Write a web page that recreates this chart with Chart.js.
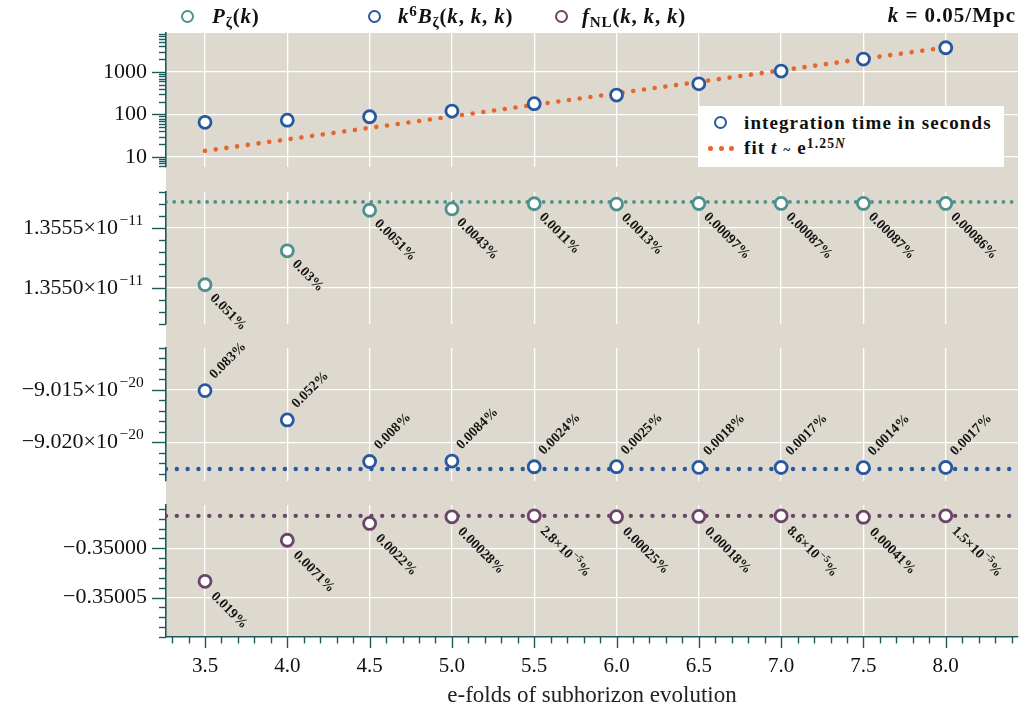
<!DOCTYPE html>
<html><head><meta charset="utf-8">
<script src="https://cdn.jsdelivr.net/npm/chart.js@4.4.1/dist/chart.umd.min.js"></script>
<style>
html,body{margin:0;padding:0;background:#fff;}
#wrap{position:relative;width:1026px;height:711px;overflow:hidden;font-family:"Liberation Serif",serif;color:#111;}
#bg{position:absolute;left:166px;top:33px;width:852px;height:604px;background:#ddd9cf;z-index:0;}
canvas{position:absolute;left:0;z-index:1;}
.leg{position:absolute;font-weight:bold;font-size:21px;letter-spacing:0.8px;white-space:nowrap;line-height:1;z-index:5;}
.mk{position:absolute;width:9.2px;height:9.2px;border-radius:50%;border:2.8px solid;background:#fff;z-index:6;}
.sb{font-size:0.72em;position:relative;top:0.28em;}
.sp{font-size:0.72em;position:relative;top:-0.45em;}
.dot{position:absolute;width:4.6px;height:4.6px;border-radius:50%;background:#e8642c;z-index:6;}
#inleg{position:absolute;left:699px;top:106px;width:305px;height:61px;background:#fff;z-index:4;}
</style></head>
<body>
<div id="wrap">
  <div id="bg"></div>
  <div class="mk" style="left:180.6px;top:9.6px;border-color:#4f8f8c"></div>
  <div class="leg" style="left:212px;top:6px"><i>P</i><span class="sb">ζ</span>(<i>k</i>)</div>
  <div class="mk" style="left:367.6px;top:9.6px;border-color:#2858a0"></div>
  <div class="leg" style="left:398px;top:6px"><i>k</i><span class="sp">6</span><i>B</i><span class="sb">ζ</span>(<i>k</i>, <i>k</i>, <i>k</i>)</div>
  <div class="mk" style="left:554.6px;top:9.6px;border-color:#6b4468"></div>
  <div class="leg" style="left:582px;top:6px"><i>f</i><span class="sb">NL</span>(<i>k</i>, <i>k</i>, <i>k</i>)</div>
  <div class="leg" style="right:10px;top:5px;letter-spacing:1px"><i>k</i> = 0.05/Mpc</div>
  <div id="inleg"></div>
  <div class="mk" style="left:713.6px;top:115.6px;border-color:#2858a0"></div>
  <div class="leg" style="left:744px;top:113px;font-size:19px;letter-spacing:1.1px">integration time in seconds</div>
  <div class="dot" style="left:708.4px;top:146.2px"></div>
  <div class="dot" style="left:719px;top:146.2px"></div>
  <div class="dot" style="left:729.4px;top:146.2px"></div>
  <div class="leg" style="left:744px;top:138px;font-size:19px;letter-spacing:1.1px">fit <i>t</i> <span style="font-size:0.7em">~</span> e<span class="sp">1.25<i>N</i></span></div>
</div>
<script>
// ---------------- data ----------------
const efolds = [3.5, 4.0, 4.5, 5.0, 5.5, 6.0, 6.5, 7.0, 7.5, 8.0];
const integrationTime = [65, 73, 88, 120, 179, 285, 527, 1050, 2020, 3730];
const fitN = [3.5, 8.0];
const fitTime = [13.8, 3800];

// power spectrum, units of 1e-11
const powerSpectrum = [1.355027, 1.355310, 1.355648, 1.355659, 1.355702, 1.355699, 1.355704, 1.355705, 1.355705, 1.355705];
const powerRef = 1.355717;
const powerErr = ['0.051%', '0.03%', '0.0051%', '0.0043%', '0.0011%', '0.0013%', '0.00097%', '0.00087%', '0.00087%', '0.00086%'];

// bispectrum k^6 B, units of 1e-20
const bispectrum = [-9.01507, -9.01787, -9.02184, -9.02180, -9.02234, -9.02233, -9.02240, -9.02241, -9.02243, -9.02241];
const bispRef = -9.02256;
const bispErr = ['0.083%', '0.052%', '0.008%', '0.0084%', '0.0024%', '0.0025%', '0.0018%', '0.0017%', '0.0014%', '0.0017%'];

// f_NL
const fnl = [-0.3500335, -0.3499918, -0.3499747, -0.3499680, -0.3499670, -0.3499679, -0.3499676, -0.3499670, -0.3499684, -0.3499670];
const fnlRef = -0.349967;
const fnlErr = ['0.019%', '0.0071%', '0.0022%', '0.00028%', '2.8×10^{−5}%', '0.00025%', '0.00018%', '8.6×10^{−5}%', '0.00041%', '1.5×10^{−5}%'];

// tick labels
const xTickValues = [3.5, 4.0, 4.5, 5.0, 5.5, 6.0, 6.5, 7.0, 7.5, 8.0];
const xTickLabels = ['3.5', '4.0', '4.5', '5.0', '5.5', '6.0', '6.5', '7.0', '7.5', '8.0'];
const timeTickValues = [10, 100, 1000];
const timeTickLabels = ['10', '100', '1000'];
const powerTickValues = [1.3550, 1.3555];
const powerTickLabels = ['1.3550×10', '1.3555×10'];
const powerTickExp = '−11';
const bispTickValues = [-9.020, -9.015];
const bispTickLabels = ['−9.020×10', '−9.015×10'];
const bispTickExp = '−20';
const fnlTickValues = [-0.35005, -0.35000];
const fnlTickLabels = ['−0.35005', '−0.35000'];

// ---------------- layout / style ----------------
const W = 1026, H = 711, CW = 1070, PLOT_LEFT = 166, PLOT_RIGHT = 1018, PAD = 40;
const PANELS = [[33, 167], [192, 324], [348, 481], [505, 637]];
const X_MIN = 3.263, X_MAX = 8.439;
const AXIS = '#1c5a5b';
const C_TIME = '#2858a0', C_FIT = '#e8642c', C_P = '#4f8f8c', C_B = '#2858a0', C_F = '#6b4468';
const EXP_PAD = 48;

Chart.defaults.font.family = '"Liberation Serif", serif';
Chart.defaults.font.size = 21;
Chart.defaults.color = '#111';

function labelFrom(vals, labs) {
  return (v, i, t) => {
    if (!t[i] || !t[i].isMaj) return '';
    for (let k = 0; k < vals.length; k++) if (Math.abs(vals[k] - v) < 1e-7 * Math.max(1e-3, Math.abs(v))) return labs[k];
    return '';
  };
}
function linTicks(min, max, step, ratio) {
  const out = [];
  const k0 = Math.ceil(min / step - 1e-6), k1 = Math.floor(max / step + 1e-6);
  for (let k = k0; k <= k1; k++) out.push({value: k * step, isMaj: k % ratio === 0});
  return out;
}
function logTicks(min, max) {
  const out = [];
  for (let e = Math.floor(Math.log10(min)); e <= Math.ceil(Math.log10(max)); e++) {
    for (let d = 1; d <= 9; d++) {
      const v = d * Math.pow(10, e);
      if (v >= min && v <= max) out.push({value: v, isMaj: d === 1});
    }
  }
  return out;
}

function marks(expText) {
  return {
    id: 'marks',
    afterDraw(chart) {
      const ctx = chart.ctx;
      ctx.save();
      ctx.strokeStyle = AXIS; ctx.lineWidth = 1.4;
      const y = chart.scales.y;
      for (const t of y.ticks) {
        const p = Math.round(y.getPixelForValue(t.value)) + 0.5;
        const len = t.isMaj ? 14 : 7;
        ctx.beginPath(); ctx.moveTo(PLOT_LEFT, p); ctx.lineTo(PLOT_LEFT - len, p); ctx.stroke();
        if (expText && t.isMaj) {
          ctx.save();
          ctx.fillStyle = '#111';
          ctx.font = '15.5px "Liberation Serif", serif';
          ctx.textAlign = 'left'; ctx.textBaseline = 'middle';
          ctx.fillText(expText, PLOT_LEFT - EXP_PAD + 1.5, p - 8);
          ctx.restore();
        }
      }
      const x = chart.scales.x;
      if (x.options.border.display) {
        for (const t of x.ticks) {
          const p = Math.round(x.getPixelForValue(t.value)) + 0.5;
          const len = t.isMaj ? 11 : 6.5;
          ctx.beginPath(); ctx.moveTo(p, x.top); ctx.lineTo(p, x.top + len); ctx.stroke();
        }
      }
      ctx.restore();
    }
  };
}

function pctPlugin(labels, dx, dy, angle) {
  return {
    id: 'pct',
    afterDatasetsDraw(chart) {
      const meta = chart.getDatasetMeta(0);
      const ctx = chart.ctx;
      ctx.save();
      ctx.fillStyle = '#141414';
      ctx.textBaseline = 'middle';
      ctx.textAlign = 'left';
      labels.forEach((lab, i) => {
        const el = meta.data[i];
        if (!el) return;
        ctx.save();
        ctx.translate(el.x + dx, el.y + dy);
        ctx.rotate(angle);
        const m = lab.match(/^(.*)\^\{(.*)\}(.*)$/);
        const big = 'bold 14px "Liberation Serif", serif', small = 'bold 10px "Liberation Serif", serif';
        if (m) {
          ctx.font = big; ctx.fillText(m[1], 0, 0);
          let xx = ctx.measureText(m[1]).width;
          ctx.font = small; ctx.fillText(m[2], xx + 0.5, -5);
          xx += ctx.measureText(m[2]).width + 1;
          ctx.font = big; ctx.fillText(m[3], xx, 0);
        } else {
          ctx.font = big; ctx.fillText(lab, 0, 0);
        }
        ctx.restore();
      });
      ctx.restore();
    }
  };
}

function markerSet(label, xs, ys, color) {
  return {
    label, data: xs.map((x, i) => ({x, y: ys[i]})),
    showLine: false, pointRadius: 6, pointBorderWidth: 2.8,
    pointBackgroundColor: '#fff', pointBorderColor: color, borderColor: color, backgroundColor: '#fff'
  };
}
function dottedSet(label, xs, ys, color, gap, width) {
  return {
    label, data: xs.map((x, i) => ({x, y: ys[i]})),
    showLine: true, pointRadius: 0, borderColor: color, borderWidth: width,
    borderDash: [0.01, gap], borderCapStyle: 'round', fill: false
  };
}

function xScale(last) {
  return {
    type: 'linear', min: X_MIN, max: X_MAX, position: 'bottom',
    afterBuildTicks(s) { s.ticks = linTicks(X_MIN, X_MAX, 0.1, 5); },
    afterFit(s) { s.height = last ? H - PANELS[3][1] : 0; s.paddingLeft = 0; s.paddingRight = 0; },
    ticks: {display: last, autoSkip: false, maxRotation: 0, minRotation: 0, padding: 17,
      callback: labelFrom(xTickValues, xTickLabels), color: '#111', font: {size: 21}},
    grid: {drawTicks: false, lineWidth: 1.3,
      color: (c) => (c.tick && c.tick.isMaj) ? '#ffffff' : 'rgba(0,0,0,0)'},
    border: {display: last, color: AXIS, width: 1.6},
    title: {display: last, text: 'e-folds of subhorizon evolution', color: '#222',
      font: {size: 23}, padding: {top: 0, bottom: 1}}
  };
}
function yScale(type, min, max, tickFn, vals, labs, pad) {
  return {
    type, min, max, position: 'left',
    afterBuildTicks(s) { s.ticks = tickFn(); },
    afterFit(s) { s.width = PLOT_LEFT; s.paddingTop = 0; s.paddingBottom = 0; },
    ticks: {autoSkip: false, padding: pad, color: '#111', font: {size: 22}, callback: labelFrom(vals, labs)},
    grid: {drawTicks: false, lineWidth: 1.3,
      color: (c) => (c.tick && c.tick.isMaj) ? '#ffffff' : 'rgba(0,0,0,0)'},
    border: {display: true, color: AXIS, width: 1.6}
  };
}

function createPanel(i, datasets, ys, labelPlugin, expText) {
  const [top, bottom] = PANELS[i];
  const last = i === PANELS.length - 1;
  const cTop = top - PAD;
  const cH = last ? H - cTop : bottom + PAD - cTop;
  const cv = document.createElement('canvas');
  cv.width = CW; cv.height = cH;
  cv.style.top = cTop + 'px'; cv.style.width = CW + 'px'; cv.style.height = cH + 'px';
  document.getElementById('wrap').appendChild(cv);
  const plugins = [marks(expText)];
  if (labelPlugin) plugins.push(labelPlugin);
  const padding = {top: PAD, bottom: last ? 0 : PAD, left: 0, right: CW - PLOT_RIGHT};
  const chart = new Chart(cv, {
    type: 'scatter',
    data: {datasets},
    options: {
      responsive: false, animation: false, devicePixelRatio: 1, events: [],
      layout: {padding},
      plugins: {legend: {display: false}, tooltip: {enabled: false}},
      scales: {x: xScale(last), y: ys}
    },
    plugins
  });
  // make sure the plot area lands exactly on the panel frame
  for (let it = 0; it < 4; it++) {
    const a = chart.chartArea;
    const dt = top - cTop - a.top, db = a.bottom - (bottom - cTop), dl = PLOT_LEFT - a.left, dr = a.right - PLOT_RIGHT;
    if (Math.abs(dt) + Math.abs(db) + Math.abs(dl) + Math.abs(dr) < 0.3) break;
    padding.top += dt; padding.bottom = Math.max(0, padding.bottom + db);
    padding.left = Math.max(0, padding.left + dl); padding.right += dr;
    chart.options.layout.padding = Object.assign({}, padding);
    chart.update('none');
  }
  return chart;
}

// Panel 1: integration time (log)
const T_MIN = 5.75, T_MAX = 8300;
createPanel(0, [
  markerSet('integration time in seconds', efolds, integrationTime, C_TIME),
  dottedSet('fit t ~ e^(1.25N)', fitN, fitTime, C_FIT, 10.8, 4.6)
], yScale('logarithmic', T_MIN, T_MAX, () => logTicks(T_MIN, T_MAX), timeTickValues, timeTickLabels, 19));

// Panel 2: power spectrum
const P_MIN = 1.35470, P_MAX = 1.35580;
createPanel(1, [
  markerSet('P_zeta(k)', efolds, powerSpectrum, C_P),
  dottedSet('P_zeta reference', [X_MIN, X_MAX], [powerRef, powerRef], C_P, 8.2, 3.8)
], yScale('linear', P_MIN, P_MAX, () => linTicks(P_MIN, P_MAX, 0.0001, 5), powerTickValues, powerTickLabels, EXP_PAD),
  pctPlugin(powerErr, 7, 11.5, Math.PI / 4), powerTickExp);

// Panel 3: bispectrum
const B_MIN = -9.0237, B_MAX = -9.0110;
createPanel(2, [
  markerSet('k^6 B_zeta(k,k,k)', efolds, bispectrum, C_B),
  dottedSet('B reference', [X_MIN, X_MAX], [bispRef, bispRef], C_B, 10.8, 4.4)
], yScale('linear', B_MIN, B_MAX, () => linTicks(B_MIN, B_MAX, 0.001, 5), bispTickValues, bispTickLabels, EXP_PAD),
  pctPlugin(bispErr, 7, -14, -Math.PI / 4), bispTickExp);

// Panel 4: f_NL
const F_MIN = -0.35009, F_MAX = -0.349956;
createPanel(3, [
  markerSet('f_NL(k,k,k)', efolds, fnl, C_F),
  dottedSet('f_NL reference', [X_MIN, X_MAX], [fnlRef, fnlRef], C_F, 10.8, 4.4)
], yScale('linear', F_MIN, F_MAX, () => linTicks(F_MIN, F_MAX, 0.00001, 5), fnlTickValues, fnlTickLabels, 19),
  pctPlugin(fnlErr, 8, 13, Math.PI / 4));
</script>
</body></html>
